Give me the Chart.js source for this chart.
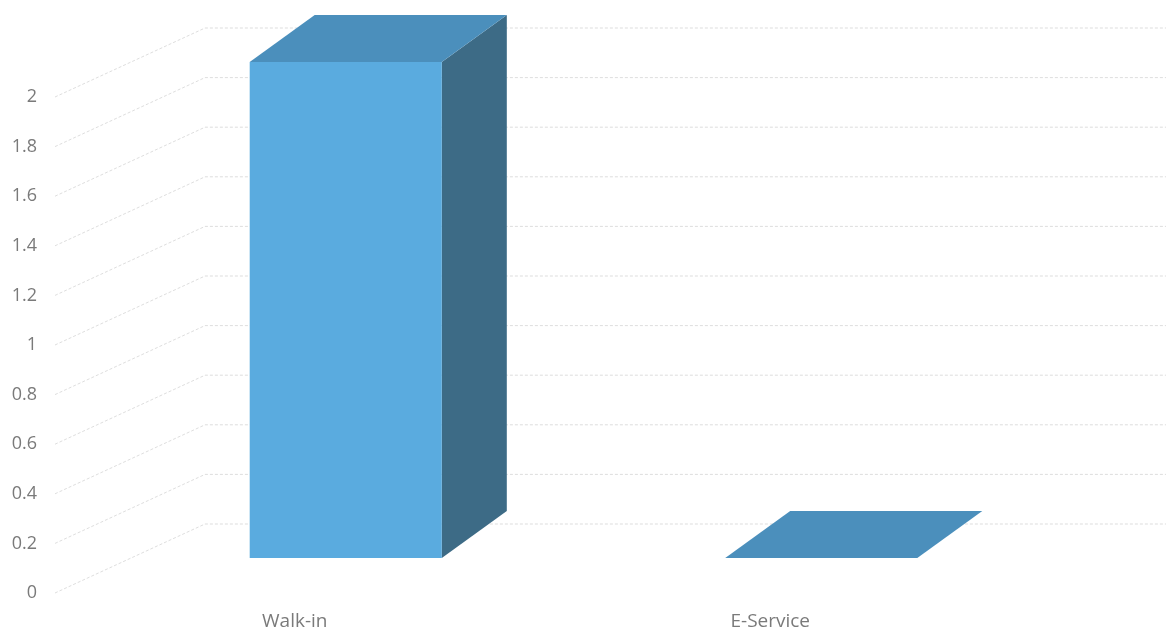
<!DOCTYPE html>
<html>
<head>
<meta charset="utf-8">
<script src="https://cdn.jsdelivr.net/npm/chart.js@4/dist/chart.umd.min.js"></script>
<style>
    body { margin: 0; background: #fff; }
    canvas { display: block; }
</style>
</head>
<body>
<canvas id="chart" width="1166" height="634"></canvas>
<script>
const categories = ['Walk-in', 'E-Service'];
const counts = [2, 0];
const yTickLabels = ['0', '0.2', '0.4', '0.6', '0.8', '1', '1.2', '1.4', '1.6', '1.8', '2'];

// rough excel-like 3d look, all offsets in px
const front = { dx: 51, dy: -35 };
const depth = { dx: 65, dy: -47 };
const wall = { x0: 55, x1: 205, dy: -69 };

const gridPlugin = {
    id: 'grid3d',
    beforeDatasetsDraw(chart) {
        const ctx = chart.ctx;
        const y = chart.scales.y;
        ctx.save();
        ctx.strokeStyle = 'rgba(190,190,190,0.5)';
        ctx.lineWidth = 1;
        ctx.setLineDash([3, 2]);
        y.ticks.forEach(t => {
            const py = y.getPixelForValue(t.value);
            ctx.beginPath();
            ctx.moveTo(wall.x0, py);
            ctx.lineTo(wall.x1, py + wall.dy);
            ctx.lineTo(chart.width, py + wall.dy);
            ctx.stroke();
        });
        ctx.restore();
    }
};

const barPlugin = {
    id: 'bars3d',
    afterDatasetsDraw(chart) {
        const ctx = chart.ctx;
        const meta = chart.getDatasetMeta(0);
        ctx.save();
        meta.data.forEach(bar => {
            const L = bar.x - bar.width / 2 + front.dx;
            const R = bar.x + bar.width / 2 + front.dx;
            const T = bar.y + front.dy;
            const B = bar.base + front.dy;

            // side
            ctx.fillStyle = '#3d6b86';
            ctx.beginPath();
            ctx.moveTo(R, T);
            ctx.lineTo(R + depth.dx, T + depth.dy);
            ctx.lineTo(R + depth.dx, B + depth.dy);
            ctx.lineTo(R, B);
            ctx.closePath();
            ctx.fill();

            // top
            ctx.fillStyle = '#4b8fbc';
            ctx.beginPath();
            ctx.moveTo(L, T);
            ctx.lineTo(L + depth.dx, T + depth.dy);
            ctx.lineTo(R + depth.dx, T + depth.dy);
            ctx.lineTo(R, T);
            ctx.closePath();
            ctx.fill();

            // front
            ctx.fillStyle = '#5aabdf';
            ctx.fillRect(L, T, R - L, B - T);
        });
        ctx.restore();
    }
};

new Chart(document.getElementById('chart'), {
    type: 'bar',
    data: {
        labels: categories,
        datasets: [{
            data: counts,
            backgroundColor: 'rgba(0,0,0,0)',
            borderWidth: 0,
            categoryPercentage: 1,
            barPercentage: 0.404,
        }],
    },
    options: {
        responsive: false,
        animation: false,
        events: [],
        layout: {
            padding: { top: 97, left: 0, right: 158, bottom: 0 },
        },
        plugins: {
            legend: { display: false },
            tooltip: { enabled: false },
        },
        scales: {
            y: {
                min: 0,
                max: 2,
                ticks: {
                    stepSize: 0.2,
                    padding: 12,
                    color: '#7a7a7a',
                    font: { family: 'Open Sans', size: 18 },
                    callback: (v, i) => yTickLabels[i],
                },
                grid: { display: false },
                border: { display: false },
                afterFit: (scale) => { scale.width = 57; },
            },
            x: {
                ticks: {
                    padding: 9,
                    color: '#7a7a7a',
                    font: { family: 'Open Sans', size: 19 },
                },
                grid: { display: false },
                border: { display: false },
                afterFit: (scale) => { scale.height = 41; },
            },
        },
    },
    plugins: [gridPlugin, barPlugin],
});
</script>
</body>
</html>
